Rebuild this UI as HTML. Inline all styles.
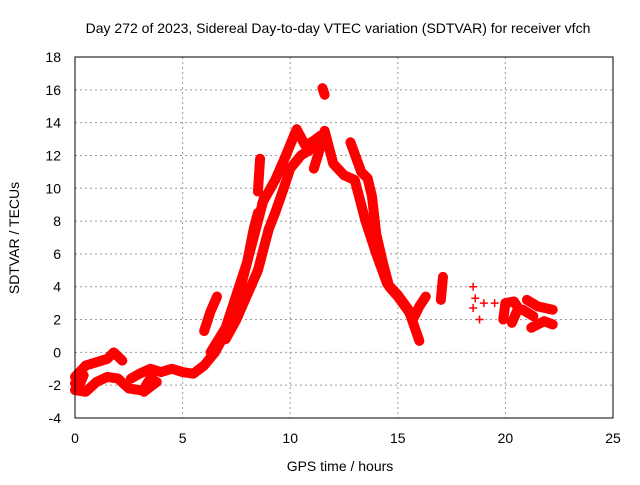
<!DOCTYPE html>
<html><head><meta charset="utf-8"><style>
body{margin:0;background:#fff;}
svg text{font-family:"Liberation Sans",sans-serif;font-size:14px;fill:#000;}
</style></head><body>
<svg id="chart" width="640" height="480">
<text x="338" y="33" text-anchor="middle">Day 272 of 2023, Sidereal Day-to-day VTEC variation (SDTVAR) for receiver vfch</text>
<g id="grid"></g><g id="ticks"></g><g id="marks"></g>
<rect x="75" y="57" width="538" height="361" fill="none" stroke="#000"/>
<text x="340" y="471" text-anchor="middle">GPS time / hours</text>
<text transform="translate(19,238) rotate(-90)" text-anchor="middle">SDTVAR / TECUs</text>
</svg>
<script>
const xTicks=[0,5,10,15,20,25];
const yTicks=[-4,-2,0,2,4,6,8,10,12,14,16,18];
const trackA=[[0,-2.3],[0.5,-2.4],[1,-1.8],[1.5,-1.5],[2,-1.6],[2.5,-2.2],[3,-2.3]];
const trackA2=[[0,-1.9],[0.4,-1.4],[0.2,-2.0]];
const trackB=[[0,-1.5],[0.5,-0.8],[1,-0.6],[1.5,-0.4],[1.8,0],[2.2,-0.5]];
const trackC=[[2.6,-1.6],[3,-1.3],[3.5,-1.0],[4,-1.2],[4.5,-1.0],[5,-1.2],[5.5,-1.3],[6,-0.8],[6.5,0],[7,1.2],[7.5,3],[8,5.5],[8.5,8],[8.8,9.5]];
const trackC2=[[3.3,-2.0],[3.6,-1.4],[3.2,-2.4],[3.8,-1.8]];
const trackD=[[6,1.3],[6.3,2.5],[6.6,3.4]];
const trackE=[[6.3,0],[7,1.5],[7.5,3.5],[8,5.5],[8.3,7.5],[8.5,8.5]];
const trackE2=[[8.5,9.8],[8.6,11.8]];
const trackF=[[8.7,9.1],[9.3,10.5],[9.8,12],[10.3,13.6],[10.7,12.6],[11.1,12.9],[11.4,13.2]];
const trackG=[[7,0.8],[7.5,2],[8,3.5],[8.5,5],[9,7.5],[9.3,8.5],[9.7,10],[10,11.2],[10.5,12],[11,12.4]];
const trackH=[[11.1,11.2],[11.4,12.5],[11.6,13.5],[12,11.5],[12.5,10.8],[13,10.5],[13.5,8],[14,6],[14.5,4.2],[15,3.5],[15.5,2.6],[16,0.7]];
const trackI=[[12.8,12.8],[13.3,11],[13.6,10.6],[13.8,9.5],[14,7.2],[14.3,5.5],[14.6,4.0],[15,3.4],[15.5,2.5],[15.7,2.0],[16,2.8],[16.3,3.4]];
const trackJ=[[11.5,16.1],[11.6,15.7]];
const trackK=[[17,3.2],[17.1,4.6]];
const trackL=[[18.5,4],[18.6,3.3],[19,3],[19.5,3],[18.5,2.7],[18.8,2]];
const trackM=[[19.9,2.0],[20,3],[20.4,3.1],[20.6,2.7],[20.3,1.8]];
const trackN=[[21,3.2],[21.5,2.8],[22.2,2.6]];
const trackO=[[21.2,1.5],[21.8,1.9],[22.2,1.7]];
const trackP=[[20.8,2.6],[21.3,2.2]];
const tracks=[trackA,trackA2,trackB,trackC,trackC2,trackD,trackE,trackE2,trackF,trackG,trackH,trackI,trackJ,trackK,trackM,trackN,trackO,trackP];
const scatter=[trackL];
const NS="http://www.w3.org/2000/svg";
const X=v=>75+v*538/25, Y=v=>418-(v+4)*361/22;
const grid=document.getElementById('grid'),ticks=document.getElementById('ticks'),marks=document.getElementById('marks');
function mk(tag,attrs,parent){const e=document.createElementNS(NS,tag);for(const k in attrs)e.setAttribute(k,attrs[k]);parent.appendChild(e);return e;}
xTicks.forEach(t=>{const x=X(t);
 if(t>0&&t<25){const g=mk('line',{x1:x,x2:x,y1:57,y2:418,stroke:'#999','stroke-dasharray':'2,3'},grid);
 
 }
 const l=mk('text',{x:x,y:443,'text-anchor':'middle'},ticks);l.textContent=t;
 
 });
yTicks.forEach(t=>{const y=Y(t);
 if(t>-4&&t<18){const g=mk('line',{x1:75,x2:613,y1:y,y2:y,stroke:'#999','stroke-dasharray':'2,3'},grid);
 
 }
 const l=mk('text',{x:61,y:y+5,'text-anchor':'end'},ticks);l.textContent=t;
 
 });
function plus(x,y){const p=mk('path',{d:`M${x-4},${y}h8M${x},${y-4}v8`,stroke:'#f00','stroke-width':1.5},marks);
 
 }
tracks.forEach(tr=>{
 const pl=mk('polyline',{points:tr.map(p=>X(p[0])+','+Y(p[1])).join(' '),fill:'none',stroke:'#f00','stroke-width':10,'stroke-linejoin':'round','stroke-linecap':'round'},marks);
 
 
 tr.forEach(p=>plus(X(p[0]),Y(p[1])));
});
scatter.forEach(tr=>tr.forEach(p=>plus(X(p[0]),Y(p[1]))));
</script>
</body></html>
